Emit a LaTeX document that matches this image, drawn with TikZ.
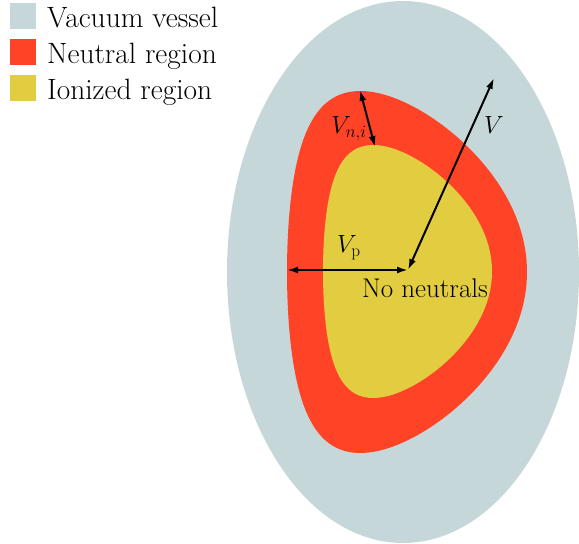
\documentclass[tikz,border=0pt]{standalone}
\usetikzlibrary{arrows.meta}
\definecolor{vessel}{RGB}{198,215,218}
\definecolor{neutral}{RGB}{255,67,38}
\definecolor{ionized}{RGB}{226,204,64}
\begin{document}
\begin{tikzpicture}[x=1pt,y=-1pt,
  dim/.style={line width=2pt,{Latex[length=11pt,width=7pt]}-{Latex[length=11pt,width=7pt]}},
  legsq/.style={minimum size=26pt,inner sep=0pt},
  legtxt/.style={anchor=base west,font=\fontsize{29.4}{34}\selectfont,inner sep=0pt},
  lbl/.style={font=\fontsize{27}{32}\selectfont,inner sep=0pt}]
\useasboundingbox (0,0) rectangle (579,544);
% vessel
\fill[vessel] (403,272) ellipse [x radius=176, y radius=271];
% neutral region
\fill[neutral] plot[domain=0:360,samples=120,smooth cycle,variable=\t]
  ({407+120*cos(\t+22.9*sin(\t))},{272-181*sin(\t)});
% ionized region
\fill[ionized] plot[domain=0:360,samples=120,smooth cycle,variable=\t]
  ({407.5+84.5*cos(\t+24*sin(\t))},{271.5-126.5*sin(\t)});
% coordinates
\coordinate (c) at (408,270);
\coordinate (pl) at (287,270);
\coordinate (vt) at (494,78);
\coordinate (nt) at (360,90);
\coordinate (nb) at (375,147);
\draw[dim] (pl) -- (c);
\draw[dim] (c) -- (vt);
\draw[dim] (nt) -- (nb);
% labels
\node[lbl] (lv) at (494,125) {$V$};
\node[lbl] (lvn) at (349,129) {$V_{n,i}$};
\node[lbl] (lvp) at (349,248) {$V_{\mathrm{p}}$};
\node[lbl] (lnn) at (425,288) {No neutrals};
% legend
\node[legsq,fill=vessel] (s1) at (23,16) {};
\node[legsq,fill=neutral] (s2) at (23,52) {};
\node[legsq,fill=ionized] (s3) at (23,88) {};
\node[legtxt] (t1) at (47,27) {Vacuum vessel};
\node[legtxt] (t2) at (47,63) {Neutral region};
\node[legtxt] (t3) at (47,99) {Ionized region};
\end{tikzpicture}
\end{document}
